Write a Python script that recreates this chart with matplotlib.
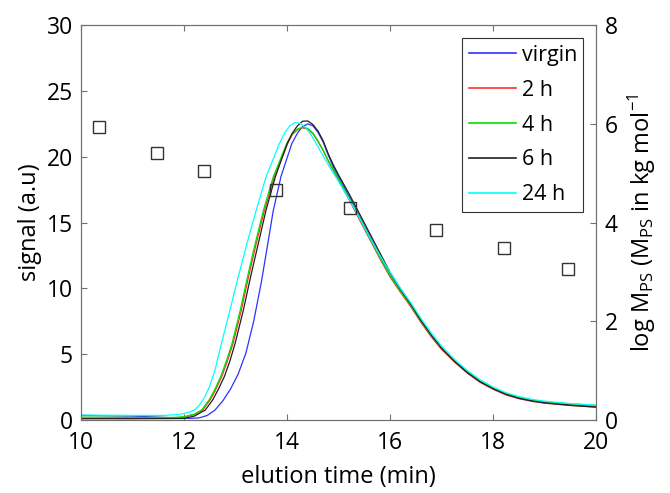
import numpy as np
import matplotlib
matplotlib.use('Agg')
import matplotlib.pyplot as plt

plt.rcParams['font.family'] = ['Open Sans', 'DejaVu Sans']
plt.rcParams['mathtext.fontset'] = 'custom'
plt.rcParams['mathtext.rm'] = 'Open Sans'

# GPC traces (elution time in min, signal in a.u.)
t_virgin = [10, 11, 11.5, 12.0, 12.15, 12.3, 12.45, 12.6, 12.75, 12.9, 13.05, 13.2, 13.35, 13.5, 13.62,
            13.73, 13.88, 14.09, 14.2, 14.3, 14.4, 14.5, 14.6, 14.7, 14.8, 14.9, 15.0, 15.2, 15.4, 15.6,
            15.8, 16.0, 16.2, 16.4, 16.6, 16.8, 17.0, 17.25, 17.5, 17.75, 18.0, 18.25, 18.5, 18.75,
            19.0, 19.5, 20.0]
s_virgin = [0.35, 0.3, 0.22, 0.13, 0.13, 0.17, 0.35, 0.76, 1.45, 2.35, 3.5, 5.1, 7.5, 10.5, 13.3,
            15.9, 18.5, 21.0, 21.8, 22.3, 22.5, 22.35, 21.85, 21.1, 20.1, 19.2, 18.45, 17.0, 15.5, 14.0,
            12.5, 11.1, 9.85, 8.75, 7.5, 6.4, 5.4, 4.45, 3.6, 2.9, 2.38, 1.95, 1.67, 1.47,
            1.33, 1.15, 1.02]

t_2h = [10, 11, 11.8, 12.0, 12.2, 12.36, 12.5, 12.6, 12.73, 12.85, 12.95, 13.11, 13.25, 13.4, 13.56,
        13.75, 14.01, 14.1, 14.2, 14.3, 14.4, 14.5, 14.6, 14.7, 14.8, 15.0, 15.2, 15.4, 15.6, 15.8,
        16.0, 16.2, 16.4, 16.6, 16.8, 17.0, 17.25, 17.5, 17.75, 18.0, 18.25, 18.5, 18.75, 19.0,
        19.5, 20.0]
s_2h = [0.12, 0.12, 0.15, 0.22, 0.42, 0.76, 1.5, 2.2, 3.29, 4.6, 5.82, 8.35, 10.88, 13.41, 15.95,
        18.47, 21.0, 21.7, 22.05, 22.2, 22.1, 21.75, 21.15, 20.45, 19.65, 18.2, 16.75, 15.25, 13.75, 12.25,
        10.85, 9.7, 8.6, 7.4, 6.3, 5.35, 4.4, 3.55, 2.85, 2.33, 1.9, 1.62, 1.42, 1.28,
        1.1, 0.98]

t_4h = [10, 11, 11.8, 12.0, 12.2, 12.34, 12.48, 12.58, 12.71, 12.83, 12.93, 13.09, 13.23, 13.38, 13.54,
        13.73, 13.99, 14.1, 14.2, 14.3, 14.4, 14.5, 14.6, 14.7, 14.8, 15.0, 15.2, 15.4, 15.6, 15.8,
        16.0, 16.2, 16.4, 16.6, 16.8, 17.0, 17.25, 17.5, 17.75, 18.0, 18.25, 18.5, 18.75, 19.0,
        19.5, 20.0]
s_4h = [0.22, 0.2, 0.2, 0.25, 0.45, 0.76, 1.5, 2.2, 3.29, 4.6, 5.82, 8.35, 10.88, 13.41, 15.95,
        18.47, 21.0, 21.75, 22.1, 22.25, 22.15, 21.8, 21.2, 20.5, 19.7, 18.3, 16.85, 15.35, 13.85, 12.35,
        10.95, 9.8, 8.7, 7.5, 6.4, 5.45, 4.5, 3.65, 2.95, 2.42, 2.0, 1.72, 1.52, 1.39,
        1.22, 1.12]

t_6h = [10, 11, 12.0, 12.2, 12.41, 12.55, 12.66, 12.78, 12.89, 12.99, 13.15, 13.29, 13.44, 13.59, 13.77,
        14.0, 14.1, 14.2, 14.3, 14.4, 14.5, 14.6, 14.7, 14.8, 14.9, 15.0, 15.2, 15.4, 15.6, 15.8,
        16.0, 16.2, 16.4, 16.6, 16.8, 17.0, 17.25, 17.5, 17.75, 18.0, 18.25, 18.5, 18.75, 19.0,
        19.5, 20.0]
s_6h = [0.1, 0.1, 0.12, 0.3, 0.76, 1.5, 2.3, 3.29, 4.5, 5.82, 8.35, 10.88, 13.41, 15.95, 18.47,
        21.0, 21.8, 22.35, 22.7, 22.72, 22.45, 21.95, 21.2, 20.2, 19.35, 18.6, 17.2, 15.7, 14.2, 12.7,
        11.2, 9.95, 8.8, 7.55, 6.45, 5.45, 4.45, 3.6, 2.9, 2.38, 1.95, 1.65, 1.45, 1.3,
        1.12, 0.98]

t_24h = [10, 11, 11.6, 11.9, 12.1, 12.2, 12.3, 12.4, 12.5, 12.6, 12.71, 12.89, 13.05, 13.22, 13.4,
         13.59, 13.85, 13.95, 14.05, 14.15, 14.25, 14.35, 14.45, 14.55, 14.65, 14.75, 14.9, 15.0, 15.2,
         15.4, 15.6, 15.8, 16.0, 16.2, 16.4, 16.6, 16.8, 17.0, 17.25, 17.5, 17.75, 18.0, 18.25, 18.5,
         18.75, 19.0, 19.5, 20.0]
s_24h = [0.38, 0.35, 0.35, 0.42, 0.6, 0.76, 1.15, 1.75, 2.6, 3.8, 5.6, 8.35, 10.88, 13.41, 15.95,
         18.47, 21.0, 21.8, 22.35, 22.6, 22.55, 22.25, 21.75, 21.1, 20.4, 19.7, 18.75, 18.1, 16.8,
         15.4, 13.9, 12.5, 11.2, 10.0, 8.9, 7.7, 6.6, 5.6, 4.6, 3.75, 3.05, 2.5, 2.07, 1.78,
         1.57, 1.43, 1.25, 1.13]

# molar mass calibration points (right axis)
sq_time = [10.35, 11.48, 12.39, 13.79, 15.22, 16.89, 18.2, 19.45]
sq_logm = [5.93, 5.41, 5.04, 4.66, 4.29, 3.85, 3.48, 3.06]

labels = ['virgin', '2 h', '4 h', '6 h', '24 h']
colors = ['#3030ff', '#ff3030', '#00e000', '#202020', '#00ffff']

fig = plt.figure(figsize=(6.7, 4.93), dpi=100)
ax = fig.add_axes([0.121, 0.148, 0.769, 0.801])
ax2 = ax.twinx()

curves = [(t_virgin, s_virgin), (t_2h, s_2h), (t_4h, s_4h), (t_6h, s_6h), (t_24h, s_24h)]
for (t, s), c, lab in zip(curves, colors, labels):
    ax.plot(t, s, color=c, lw=0.9, label=lab)

ax2.plot(sq_time, sq_logm, 's', ms=8, mfc='none', mec='#333333', mew=1.0)

ax.set_xlim(10, 20)
ax.set_ylim(0, 30)
ax2.set_ylim(0, 8)
ax.set_xticks([10, 12, 14, 16, 18, 20])
ax.set_yticks([0, 5, 10, 15, 20, 25, 30])
ax2.set_yticks([0, 2, 4, 6, 8])

ax.set_xlabel('elution time (min)', fontsize=17, labelpad=7)
ax.set_ylabel('signal (a.u)', fontsize=17, labelpad=3)
ax2.set_ylabel(r'log M$_{\mathregular{PS}}$ (M$_{\mathregular{PS}}$ in kg mol$^{\mathregular{-1}}$',
               fontsize=17, labelpad=6)

for a in (ax, ax2):
    for sp in a.spines.values():
        sp.set_color('#707070')
        sp.set_linewidth(0.8)
ax.tick_params(axis='both', direction='in', labelsize=16.5, length=4, color='#707070', top=True)
ax.tick_params(axis='y', pad=6)
ax.tick_params(axis='x', pad=8)
ax2.tick_params(axis='y', direction='in', labelsize=16.5, length=4, color='#707070', pad=6)

leg = ax.legend(loc='upper right', fontsize=15.5, frameon=True, fancybox=False, framealpha=1,
                edgecolor='#333333', handlelength=2.2, handletextpad=0.25, labelspacing=0.65,
                borderaxespad=0.6, borderpad=0.3)
leg.get_frame().set_linewidth(0.8)
for h in leg.get_lines():
    h.set_linewidth(1.2)
leg.set_zorder(5)

plt.savefig('out.png', dpi=100)
